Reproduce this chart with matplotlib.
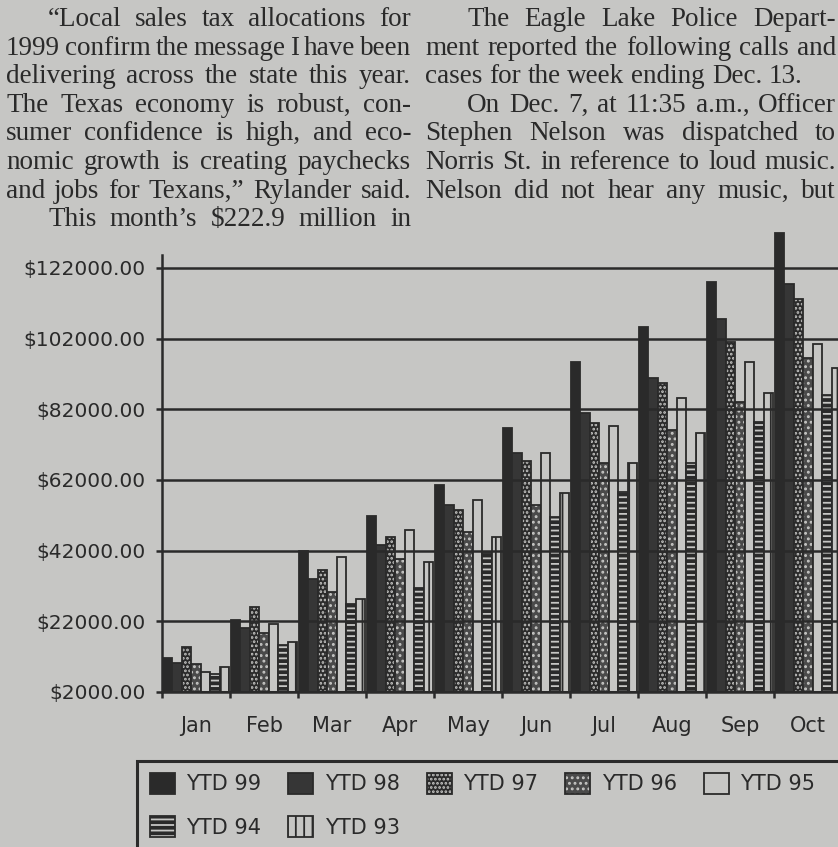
import matplotlib.pyplot as plt
from matplotlib.patches import Patch, Rectangle
from matplotlib.legend_handler import HandlerTuple

PAPER = '#c6c6c4'
INK = '#2a2a2a'
W, H = 838, 847

# Chart data (dollars)
months = ['Jan', 'Feb', 'Mar', 'Apr', 'May', 'Jun', 'Jul', 'Aug', 'Sep', 'Oct']
series = ['YTD 99', 'YTD 98', 'YTD 97', 'YTD 96', 'YTD 95', 'YTD 94', 'YTD 93']
ytd99 = [11600, 22400, 41900, 51800, 60600, 76700, 95400, 105300, 118000, 131900]
ytd98 = [10200, 20100, 34000, 43600, 54900, 69600, 80900, 90900, 107600, 117500]
ytd97 = [14700, 26100, 36500, 45900, 53500, 67400, 78100, 89400, 101000, 113200]
ytd96 = [9900, 18700, 30300, 39600, 47300, 54900, 66800, 76100, 84100, 96500]
ytd95 = [7700, 21200, 40200, 47800, 56300, 69600, 77200, 85200, 95400, 100500]
ytd94 = [7100, 15300, 26900, 31400, 41300, 51500, 58600, 66800, 78400, 86000]
ytd93 = [9100, 16200, 28300, 38800, 45900, 58300, 66800, 75300, 86600, 93700]
values = [ytd99, ytd98, ytd97, ytd96, ytd95, ytd94, ytd93]

yticks = [2000, 22000, 42000, 62000, 82000, 102000, 122000]
ytick_labels = ['$2000.00', '$22000.00', '$42000.00', '$62000.00',
                '$82000.00', '$102000.00', '$122000.00']

# newspaper text around the chart
col1 = ["\u201cLocal sales tax allocations for",
        "1999 confirm the message I have been",
        "delivering across the state this year.",
        "The Texas economy is robust, con-",
        "sumer confidence is high, and eco-",
        "nomic growth is creating paychecks",
        "and jobs for Texans,\u201d Rylander said.",
        "This month\u2019s $222.9 million in"]
col2 = ["The Eagle Lake Police Depart-",
        "ment reported the following calls and",
        "cases for the week ending Dec. 13.",
        "On Dec. 7, at 11:35 a.m., Officer",
        "Stephen Nelson was dispatched to",
        "Norris St. in reference to loud music.",
        "Nelson did not hear any music, but"]
col1_indent = [True, False, False, False, False, False, False, True]
col2_indent = [True, False, False, True, False, False, False]
col2_ragged = [False, False, True, False, False, False, False]

# (face, hatch, hatch colour)
styles = [(INK, None, None),
          ('#363636', None, None),
          (INK, '....', PAPER),
          ('#4a4a4a', '...', PAPER),
          (PAPER, None, None),
          (INK, '---', PAPER),
          (PAPER, '||', INK)]

plt.rcParams['hatch.linewidth'] = 1.3

fig = plt.figure(figsize=(W / 100, H / 100), dpi=100, facecolor=PAPER)
ax = fig.add_axes([162 / W, 1 - 692 / H, (W - 162) / W, 473.5 / H])
ax.set_facecolor('none')

bw = 0.14
for k, (vals, (face, hatch, hcol)) in enumerate(zip(values, styles)):
    xs = [i + 0.01 + k * bw for i in range(len(months))]
    hs = [v - 2000 for v in vals]
    if hatch:
        ax.bar(xs, hs, bw, bottom=2000, align='edge', color=face,
               edgecolor=hcol, hatch=hatch, linewidth=0, clip_on=False)
        ax.bar(xs, hs, bw, bottom=2000, align='edge', facecolor='none',
               edgecolor=INK, linewidth=1.3, clip_on=False)
    else:
        ax.bar(xs, hs, bw, bottom=2000, align='edge', color=face,
               edgecolor=INK, linewidth=1.3, clip_on=False)

ax.set_xlim(0, (W - 162) / 68)
ax.set_ylim(2000, 136000)
ax.set_yticks(yticks)
ax.set_yticklabels(ytick_labels)
ax.set_xticks(range(len(months)))
ax.set_xticklabels([])
ax.set_xticks([i + 0.5 for i in range(len(months))], minor=True)
ax.set_xticklabels(months, minor=True)

ax.yaxis.grid(True, color=INK, linewidth=1.8)
ax.set_axisbelow(False)
for s in ['top', 'right']:
    ax.spines[s].set_visible(False)
for s in ['left', 'bottom']:
    ax.spines[s].set_linewidth(1.8)
    ax.spines[s].set_color(INK)
ax.spines['left'].set_bounds(2000, 125700)

ax.tick_params(axis='y', direction='out', length=4, width=1.8, color=INK,
               pad=8, labelsize=14.5, labelcolor=INK)
ax.tick_params(axis='x', which='major', direction='out', length=4,
               width=1.8, color=INK)
ax.tick_params(axis='x', which='minor', length=0, pad=17, labelsize=15,
               labelcolor=INK)

# legend; its box runs off the page on the right and bottom
handles = []
for face, hatch, hcol in styles:
    if hatch:
        handles.append((Patch(facecolor=face, edgecolor=hcol, hatch=hatch, linewidth=0),
                        Patch(facecolor='none', edgecolor=INK, linewidth=1.3)))
    else:
        handles.append(Patch(facecolor=face, edgecolor=INK, linewidth=1.3))
order = [0, 5, 1, 6, 2, 3, 4]
fig.legend([handles[i] for i in order], [series[i] for i in order],
           handler_map={tuple: HandlerTuple(ndivide=1)},
           loc='upper left', bbox_to_anchor=(137 / W, 1 - 760 / H),
           ncol=5, fontsize=15, labelcolor=INK,
           handlelength=1.2, handleheight=1.2, handletextpad=0.55,
           columnspacing=1.3, labelspacing=1.05, borderpad=0.6,
           borderaxespad=0, frameon=False)
fig.patches.append(Rectangle((137 / W, -0.1), 1.0, 1 - 761 / H + 0.1,
                             transform=fig.transFigure, facecolor='none',
                             edgecolor=INK, linewidth=2.2, zorder=0))

# justified body text
BODY = dict(family='Liberation Serif', fontsize=19.5, color=INK)
renderer = fig.canvas.get_renderer()


def set_line(text, left, right, base, justify=True):
    words = text.split(' ')
    arts = [fig.text(0, 0, w, **BODY) for w in words]
    widths = [a.get_window_extent(renderer).width for a in arts]
    if justify and len(words) > 1:
        gap = (right - left - sum(widths)) / (len(words) - 1)
    else:
        gap = 0.25 * BODY['fontsize'] * 100 / 72
    x = left
    for a, w in zip(arts, widths):
        a.set_position((x / W, 1 - base / H))
        x += w + gap


for i, line in enumerate(col1):
    left = 6 + (42 if col1_indent[i] else 0)
    set_line(line, left, 411, 26 + 28.6 * i)
for i, line in enumerate(col2):
    left = 425 + (42 if col2_indent[i] else 0)
    set_line(line, left, 836, 26 + 28.6 * i, justify=not col2_ragged[i])

fig.savefig('out.png', dpi=100, facecolor=PAPER)
